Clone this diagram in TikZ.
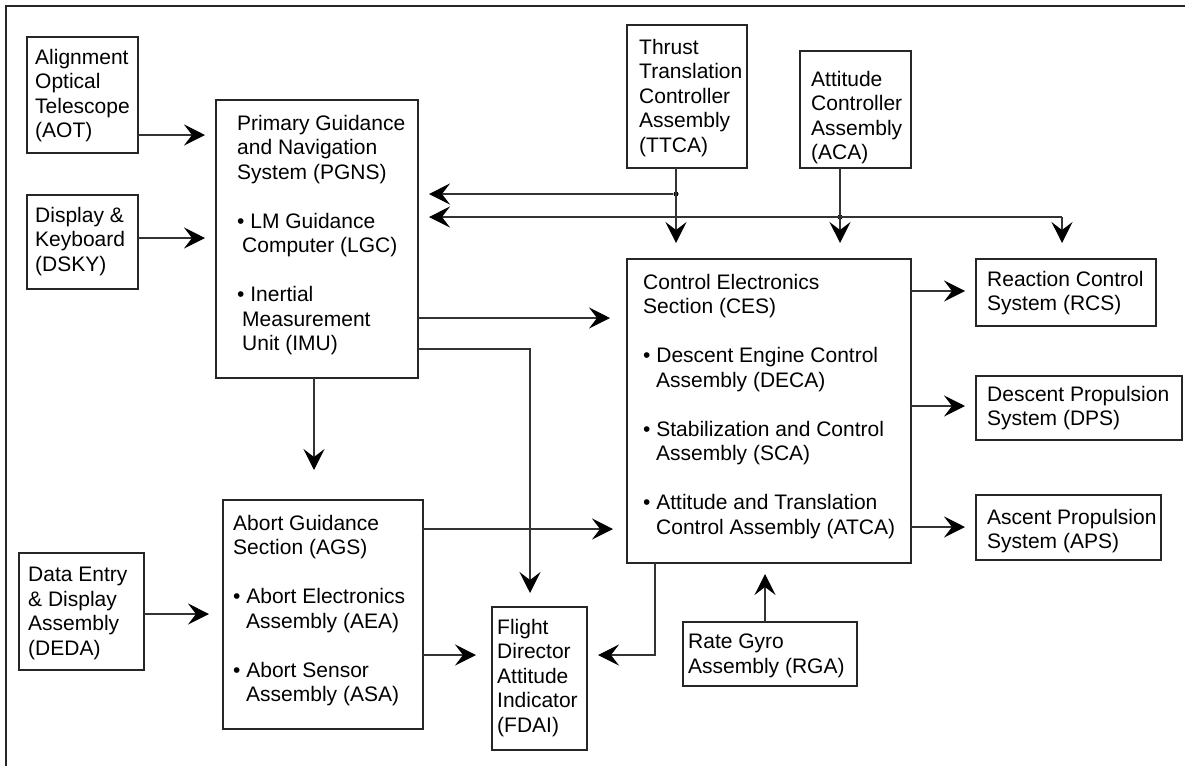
\documentclass[tikz,border=0pt]{standalone}
\usepackage{fontspec}
\setmainfont{Liberation Sans}
\usetikzlibrary{arrows.meta,calc}
\newcommand\blk[8]{%
  \node[box,minimum width=#4pt,minimum height=#5pt] (#1) at (#2,#3) {};
  \node[txt] (#1t) at (#6,#7) {#8};}
\begin{document}
\begin{tikzpicture}[x=1pt,y=-1pt,
  box/.style={draw=black!85,line width=1.2pt,anchor=north west,inner sep=0pt,outer sep=0pt},
  txt/.style={anchor=north west,inner sep=0pt,align=left,font=\fontsize{21}{24.5}\selectfont},
  conn/.style={draw=black!80,line width=1.2pt},
  arr/.style={conn,-{Stealth[length=21pt,width=21pt,inset=8pt,black]}},
  frame/.style={draw=black!85,line width=1.6pt},
  dot/.style={circle,fill=black,inner sep=0pt,minimum size=5pt}]
\useasboundingbox (0,0) rectangle (1185,766);
\draw[frame] (6,766) -- (6,6) -- (1185,6);
\def\gap{\\[24.5pt]}
\blk{aot}{27}{37}{111}{116}{35}{49}{Alignment\\Optical\\Telescope\\(AOT)}
\blk{dsky}{27}{195}{111}{94}{35}{207}{Display \&\\Keyboard\\(DSKY)}
\blk{pgns}{216}{100}{202}{278}{237}{115}{Primary Guidance\\and Navigation\\System (PGNS)\gap • LM Guidance\\\hspace*{5pt}Computer (LGC)\gap • Inertial\\\hspace*{5pt}Measurement\\\hspace*{5pt}Unit (IMU)}
\blk{ttca}{627}{25}{120}{143}{639}{39}{Thrust\\Translation\\Controller\\Assembly\\(TTCA)}
\blk{aca}{800}{51}{111}{117}{811}{71}{Attitude\\Controller\\Assembly\\(ACA)}
\blk{ces}{627}{259}{284}{304}{643}{274}{Control Electronics\\Section (CES)\gap • Descent Engine Control\\\hspace*{13pt}Assembly (DECA)\gap • Stabilization and Control\\\hspace*{13pt}Assembly (SCA)\gap • Attitude and Translation\\\hspace*{13pt}Control Assembly (ATCA)}
\blk{rcs}{976}{259}{180}{67}{987}{271}{Reaction Control\\System (RCS)}
\blk{dps}{976}{376}{206}{64}{987}{386}{Descent Propulsion\\System (DPS)}
\blk{aps}{976}{495}{185}{65}{987}{509}{Ascent Propulsion\\System (APS)}
\blk{deda}{19}{553}{125}{117}{28}{567}{Data Entry\\\& Display\\Assembly\\(DEDA)}
\blk{ags}{223}{500}{200}{229}{233}{515}{Abort Guidance\\Section (AGS)\gap • Abort Electronics\\\hspace*{13pt}Assembly (AEA)\gap • Abort Sensor\\\hspace*{13pt}Assembly (ASA)}
\blk{fdai}{492}{607}{95}{143}{497}{619}{Flight\\Director\\Attitude\\Indicator\\(FDAI)}
\blk{rga}{683}{622}{174}{64}{688}{634}{Rate Gyro\\Assembly (RGA)}
% junctions
\node[dot] (j1) at (676,194) {};
\node[dot] (j2) at (840,217) {};
\coordinate (c1) at (1062,217);
\coordinate (c2) at (530,349);
\coordinate (c3) at (655,655);
% connectors
\draw[arr,shorten >=11pt] (aot.east |- 0,135) -- (pgns.west |- 0,135);
\draw[arr,shorten >=11pt] (dsky.east |- 0,238) -- (pgns.west |- 0,238);
\draw[arr,shorten >=16pt] (ttca.south -| j1) -- (ces.north -| j1);
\draw[arr,shorten >=11pt] (j1) -- (pgns.east |- j1);
\draw[arr,shorten >=16pt] (aca.south -| j2) -- (ces.north -| j2);
\draw[arr,shorten >=11pt] (c1) -- (pgns.east |- c1);
\draw[arr,shorten >=16pt] (c1) -- (rcs.north -| c1);
\draw[arr,shorten >=17pt] (pgns.east |- 0,318) -- (ces.west |- 0,318);
\draw[arr,shorten >=14pt] (pgns.east |- c2) -- (c2) -- (fdai.north -| c2);
\draw[arr,shorten >=30pt] (pgns.south -| 314,0) -- (ags.north -| 314,0);
\draw[arr,shorten >=14pt] (ags.east |- 0,529) -- (ces.west |- 0,529);
\draw[arr,shorten >=16pt] (ags.east |- c3) -- (fdai.west |- c3);
\draw[arr,shorten >=14pt] (deda.east |- 0,614) -- (ags.west |- 0,614);
\draw[arr,shorten >=11pt] (ces.south -| c3) -- (c3) -- (fdai.east |- c3);
\draw[arr,shorten >=11pt] (rga.north -| 765,0) -- (ces.south -| 765,0);
\draw[arr,shorten >=11pt] (ces.east |- 0,291) -- (rcs.west |- 0,291);
\draw[arr,shorten >=11pt] (ces.east |- 0,406) -- (dps.west |- 0,406);
\draw[arr,shorten >=11pt] (ces.east |- 0,527) -- (aps.west |- 0,527);
\end{tikzpicture}
\end{document}
